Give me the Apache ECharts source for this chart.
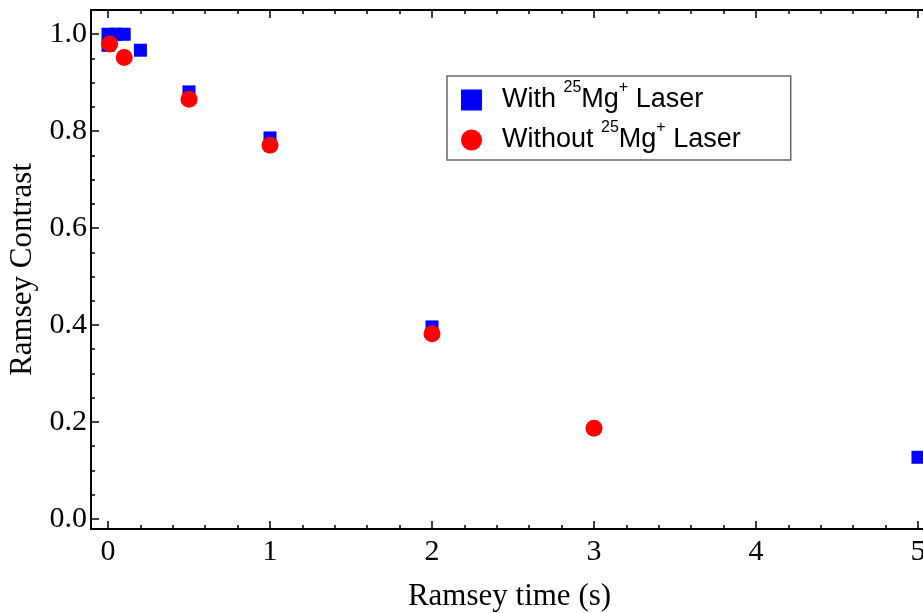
<!DOCTYPE html>
<html>
<head>
<meta charset="utf-8">
<script src="https://cdn.jsdelivr.net/npm/echarts@6/dist/echarts.min.js"></script>
<style>
  html, body { margin: 0; padding: 0; background: #fff; }
  #chart { width: 923px; height: 613px; }
</style>
</head>
<body>
<div id="chart"></div>
<script>
// data
var withLaser = [
  [0, 1.0], [0.05, 1.0], [0.1, 1.0], [0, 0.977], [0.2, 0.967],
  [0.5, 0.881], [1, 0.786], [2, 0.396], [5, 0.127]
];
var withoutLaser = [
  [0.01, 0.98], [0.1, 0.952], [0.5, 0.866], [1, 0.771], [2, 0.382], [3, 0.187]
];
var seriesNames = ["With", "Without"];

// ticks
var xMajor = [0, 1, 2, 3, 4, 5];
var xMinor = [0.2, 0.4, 0.6, 0.8, 1.2, 1.4, 1.6, 1.8, 2.2, 2.4, 2.6, 2.8,
  3.2, 3.4, 3.6, 3.8, 4.2, 4.4, 4.6, 4.8];
var yMajor = [0, 0.2, 0.4, 0.6, 0.8, 1.0];
var yMinor = [0.05, 0.1, 0.15, 0.25, 0.3, 0.35, 0.45, 0.5, 0.55, 0.65, 0.7,
  0.75, 0.85, 0.9, 0.95];

var serif = "Liberation Serif";
var black = "#000";

// one axis per tick set (major / minor), top and bottom share the frame
function makeAxis(pos, vals, len, withLabels, withLine, extra) {
  var ax = {
    type: "value",
    position: pos,
    splitLine: { show: false },
    axisLine: { show: withLine, onZero: false, lineStyle: { color: black, width: 2 } },
    axisTick: { show: true, inside: true, length: len, customValues: vals,
      lineStyle: { color: black, width: 1.5 } },
    axisLabel: { show: withLabels, customValues: vals }
  };
  for (var k in extra) ax[k] = extra[k];
  return ax;
}

var xRange = { min: -0.105, max: 5.062 };
var yRange = { min: -0.021, max: 1.05 };

var xAxes = [
  makeAxis("bottom", xMajor, 8, true, true, {
    min: xRange.min, max: xRange.max,
    name: "Ramsey time (s)", nameLocation: "middle", nameGap: 52,
    nameTextStyle: { fontFamily: serif, fontSize: 31, color: black }
  }),
  makeAxis("bottom", xMinor, 4, false, false, { min: xRange.min, max: xRange.max }),
  makeAxis("top", xMajor, 8, false, true, { min: xRange.min, max: xRange.max }),
  makeAxis("top", xMinor, 4, false, false, { min: xRange.min, max: xRange.max })
];
xAxes[0].axisLabel.fontFamily = serif;
xAxes[0].axisLabel.fontSize = 30;
xAxes[0].axisLabel.color = black;
xAxes[0].axisLabel.margin = 8;

var yAxes = [
  makeAxis("left", yMajor, 8, true, true, {
    min: yRange.min, max: yRange.max,
    name: "Ramsey Contrast", nameLocation: "middle", nameGap: 51,
    nameTextStyle: { fontFamily: serif, fontSize: 31, color: black }
  }),
  makeAxis("left", yMinor, 4, false, false, { min: yRange.min, max: yRange.max })
];
yAxes[0].axisLabel.fontFamily = serif;
yAxes[0].axisLabel.fontSize = 30;
yAxes[0].axisLabel.color = black;
yAxes[0].axisLabel.margin = 4;
yAxes[0].axisLabel.formatter = function (v) { return v.toFixed(1); };

var mychart = echarts.init(document.getElementById("chart"), null, { renderer: "canvas" });

var option = {
  animation: false,
  backgroundColor: "#fff",
  grid: { left: 91, top: 10, right: -5, bottom: 84, outerBoundsMode: "none", containLabel: false },
  xAxis: xAxes,
  yAxis: yAxes,
  legend: {
    orient: "vertical",
    left: 447,
    top: 76,
    padding: [4, 50, 4, 14],
    itemWidth: 21,
    itemHeight: 21,
    itemGap: 4,
    borderColor: "#666",
    borderWidth: 1.5,
    data: seriesNames,
    formatter: function (name) {
      return name + " {sup|25}Mg{sup|+} Laser";
    },
    textStyle: {
      fontFamily: "Liberation Sans",
      fontSize: 27,
      lineHeight: 32,
      color: black,
      padding: [0, 0, 0, 15],
      rich: {
        sup: { fontFamily: "Liberation Sans", fontSize: 16, color: black,
          verticalAlign: "bottom", lineHeight: 10, padding: [0, 0, 20, 0] }
      }
    }
  },
  series: [
    {
      name: seriesNames[0],
      type: "scatter",
      symbol: "rect",
      symbolSize: 13,
      itemStyle: { color: "#0000ff", opacity: 1 },
      data: withLaser
    },
    {
      name: seriesNames[1],
      type: "scatter",
      symbol: "circle",
      symbolSize: 17,
      itemStyle: { color: "#ff0000", opacity: 1 },
      data: withoutLaser
    }
  ]
};
mychart.setOption(option);
</script>
</body>
</html>
